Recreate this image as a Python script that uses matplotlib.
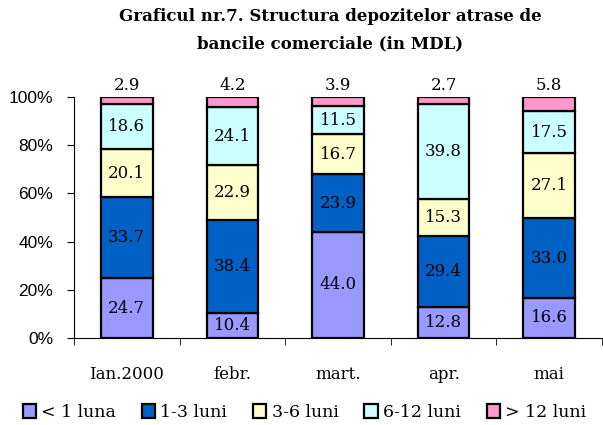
import matplotlib
matplotlib.use("Agg")
import matplotlib.pyplot as plt
import numpy as np

categories = ["Ian.2000", "febr.", "mart.", "apr.", "mai"]
series_names = ["< 1 luna", "1-3 luni", "3-6 luni", "6-12 luni", "> 12 luni"]
lt1 = [24.7, 10.4, 44.0, 12.8, 16.6]
m1_3 = [33.7, 38.4, 23.9, 29.4, 33.0]
m3_6 = [20.1, 22.9, 16.7, 15.3, 27.1]
m6_12 = [18.6, 24.1, 11.5, 39.8, 17.5]
gt12 = [2.9, 4.2, 3.9, 2.7, 5.8]
colors = ["#9999FF", "#0060C4", "#FFFFCC", "#CCFFFF", "#FF99CC"]
title = "Graficul nr.7. Structura depozitelor atrase de\nbancile comerciale (in MDL)"

plt.rcParams['font.family'] = ['DejaVu Serif', 'DejaVu Sans']

fig = plt.figure(figsize=(6.03, 4.25), dpi=100)
ax = fig.add_axes([74/603, 1-338/425, (602-74)/603, (338-97)/425])

data = [lt1, m1_3, m3_6, m6_12, gt12]
x = np.arange(len(categories))
bottom = np.zeros(len(categories))
for vals, name, c in zip(data, series_names, colors):
    vals = np.array(vals)
    ax.bar(x, vals, width=0.49, bottom=bottom, color=c, edgecolor="black",
           linewidth=1.6, label=name, zorder=3)
    if name != "> 12 luni":
        for xi, b, v in zip(x, bottom, vals):
            ax.text(xi, b + v / 2, f"{v:.1f}", ha="center", va="center",
                    fontsize=12, color="black", zorder=4)
    else:
        for xi, b, v in zip(x, bottom, vals):
            ax.text(xi, 101.2, f"{v:.1f}", ha="center", va="bottom",
                    fontsize=12, color="black", clip_on=False)
    bottom = bottom + vals

ax.set_xlim(-0.5, len(categories) - 0.5)
ax.set_ylim(0, 100)
ax.set_yticks(np.arange(0, 101, 20))
ax.set_yticklabels([f"{v}%" for v in range(0, 101, 20)], fontsize=12.5,
                   family=['Liberation Sans'])
ax.set_xticks(x)
ax.set_xticklabels(categories, fontsize=12)
ax.set_xticks(np.arange(-0.5, len(categories)), minor=True)
ax.tick_params(axis="x", which="major", length=0, pad=20)
ax.tick_params(axis="x", which="minor", length=5, direction="out")
ax.tick_params(axis="y", length=5, direction="out", pad=10)
for s in ["top", "right"]:
    ax.spines[s].set_visible(False)
ax.spines["left"].set_color("black")
ax.spines["bottom"].set_color("black")

fig.text(0.547, 0.982, title, ha="center", va="top", fontsize=12,
         fontweight="bold", linespacing=1.85)

handles, labels = ax.get_legend_handles_labels()
fig.legend(handles, labels, loc="lower center", bbox_to_anchor=(0.505, -0.028),
           ncol=5, frameon=False, fontsize=12.5, handlelength=0.75,
           handleheight=0.85, handletextpad=0.3, columnspacing=1.5)

fig.savefig("out.png", dpi=100)
